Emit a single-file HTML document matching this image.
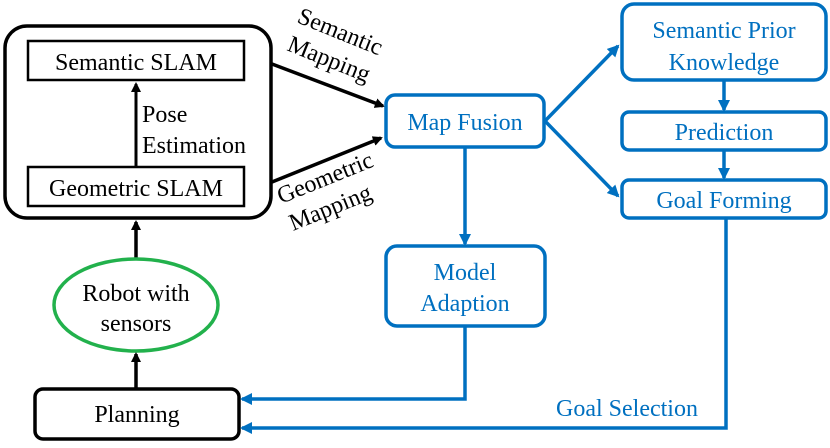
<!DOCTYPE html>
<html><head><style>body{margin:0;background:#fff}svg text{font-family:"Liberation Serif","Noto Serif CJK SC","DejaVu Serif",serif;font-size:24px}</style></head><body>
<svg width="830" height="443" viewBox="0 0 830 443" xmlns="http://www.w3.org/2000/svg">
<defs>
<marker id="ab" markerWidth="10" markerHeight="10" refX="8" refY="5" orient="auto" markerUnits="userSpaceOnUse"><path d="M0,0 L10,5 L0,10 z" fill="#000"/></marker>
<marker id="au" markerWidth="12" markerHeight="12" refX="10" refY="6" orient="auto" markerUnits="userSpaceOnUse"><path d="M0,0 L12,6 L0,12 z" fill="#0070c0"/></marker>
</defs>
<rect x="5" y="26" width="266" height="192" rx="22" fill="none" stroke="#000" stroke-width="3.5"/>
<rect x="28" y="41" width="216" height="39" fill="none" stroke="#000" stroke-width="2.5"/>
<text x="136" y="70" text-anchor="middle">Semantic SLAM</text>
<rect x="28" y="167" width="216" height="39" fill="none" stroke="#000" stroke-width="2.5"/>
<text x="136" y="196" text-anchor="middle">Geometric SLAM</text>
<line x1="136" y1="166" x2="136" y2="84" stroke="#000" stroke-width="3" marker-end="url(#ab)"/>
<text x="142" y="122">Pose</text>
<text x="142" y="153">Estimation</text>
<line x1="272" y1="64" x2="383" y2="106" stroke="#000" stroke-width="3.5" marker-end="url(#ab)"/>
<line x1="272" y1="182" x2="381" y2="138" stroke="#000" stroke-width="3.5" marker-end="url(#ab)"/>
<text transform="translate(296,22) rotate(22)">Semantic</text>
<text transform="translate(286,50) rotate(22)">Mapping</text>
<text transform="translate(281,204) rotate(-22)">Geometric</text>
<text transform="translate(293,231) rotate(-22)">Mapping</text>
<line x1="136" y1="258" x2="136" y2="222" stroke="#000" stroke-width="3.5" marker-end="url(#ab)"/>
<ellipse cx="136" cy="305" rx="82" ry="46" fill="none" stroke="#22b14c" stroke-width="3.5"/>
<text x="136" y="301" text-anchor="middle">Robot with</text>
<text x="136" y="331" text-anchor="middle">sensors</text>
<line x1="136" y1="389" x2="136" y2="354" stroke="#000" stroke-width="3.5" marker-end="url(#ab)"/>
<rect x="35" y="389" width="204" height="50" rx="8" fill="none" stroke="#000" stroke-width="3.5"/>
<text x="137" y="422" text-anchor="middle">Planning</text>
<g fill="#0070c0">
<rect x="386" y="95" width="158" height="52" rx="9" fill="none" stroke="#0070c0" stroke-width="3.5"/>
<text x="465" y="130" text-anchor="middle" fill="#0070c0">Map Fusion</text>
<rect x="622" y="4" width="204" height="76" rx="12" fill="none" stroke="#0070c0" stroke-width="3.5"/>
<text x="724" y="38" text-anchor="middle" fill="#0070c0">Semantic Prior</text>
<text x="724" y="70" text-anchor="middle" fill="#0070c0">Knowledge</text>
<rect x="622" y="112" width="204" height="38" rx="7" fill="none" stroke="#0070c0" stroke-width="3.5"/>
<text x="724" y="140" text-anchor="middle" fill="#0070c0">Prediction</text>
<rect x="622" y="180" width="204" height="38" rx="7" fill="none" stroke="#0070c0" stroke-width="3.5"/>
<text x="724" y="208" text-anchor="middle" fill="#0070c0">Goal Forming</text>
<rect x="386" y="246" width="159" height="80" rx="11" fill="none" stroke="#0070c0" stroke-width="3.5"/>
<text x="465" y="280" text-anchor="middle" fill="#0070c0">Model</text>
<text x="465" y="311" text-anchor="middle" fill="#0070c0">Adaption</text>
<text x="556" y="416" fill="#0070c0">Goal Selection</text>
</g>
<g stroke="#0070c0" stroke-width="3.5" fill="none">
<line x1="545" y1="121" x2="618" y2="46" marker-end="url(#au)"/>
<line x1="545" y1="121" x2="618" y2="196" marker-end="url(#au)"/>
<line x1="724" y1="80" x2="724" y2="110" marker-end="url(#au)"/>
<line x1="724" y1="150" x2="724" y2="178" marker-end="url(#au)"/>
<line x1="465" y1="147" x2="465" y2="244" marker-end="url(#au)"/>
<polyline points="465,326 465,399 242,399" marker-end="url(#au)"/>
<polyline points="726,218 726,428 242,428" marker-end="url(#au)"/>
</g>
</svg>
</body></html>
